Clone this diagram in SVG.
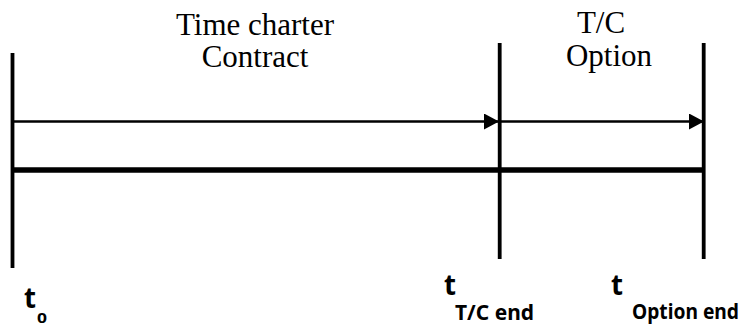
<svg xmlns="http://www.w3.org/2000/svg" width="749" height="327" viewBox="0 0 749 327">
<style>
.serif{font-family:"Liberation Serif","Times New Roman",serif;font-size:31px;fill:#000}
.lbl{font-family:"Noto Sans","Liberation Sans",sans-serif;font-weight:bold;fill:#000}
.v{stroke:#000;stroke-width:3.8;fill:none}
.arr{stroke:#000;stroke-width:2.6;fill:none}
</style>
<defs>
<marker id="ah" markerUnits="userSpaceOnUse" markerWidth="15" markerHeight="16" refX="15" refY="8" orient="auto">
<path d="M0,0 L15,8 L0,16 Z" fill="#000"/>
</marker>
</defs>
<rect width="749" height="327" fill="#fff"/>
<g id="connectors">
<line class="arr" x1="12" y1="121.5" x2="499" y2="121.5" marker-end="url(#ah)"/>
<line class="arr" x1="500" y1="121.5" x2="704" y2="121.5" marker-end="url(#ah)"/>
<line x1="11" y1="170" x2="705" y2="170" stroke="#000" stroke-width="5.5"/>
</g>
<g id="t0">
<line class="v" x1="12.5" y1="53" x2="12.5" y2="268"/>
<text class="lbl" x="24" y="308" font-size="29" textLength="12" lengthAdjust="spacingAndGlyphs">t</text>
<text class="lbl" x="37" y="323" font-size="15" textLength="10" lengthAdjust="spacingAndGlyphs">0</text>
</g>
<g id="tTCend">
<line class="v" x1="499.7" y1="43" x2="499.7" y2="259"/>
<text class="lbl" x="444" y="295" font-size="29" textLength="12" lengthAdjust="spacingAndGlyphs">t</text>
<text class="lbl" x="455" y="320" font-size="22" textLength="79" lengthAdjust="spacingAndGlyphs">T/C end</text>
</g>
<g id="tOptionend">
<line class="v" x1="703.7" y1="43" x2="703.7" y2="259"/>
<text class="lbl" x="611" y="295" font-size="29" textLength="12" lengthAdjust="spacingAndGlyphs">t</text>
<text class="lbl" x="632" y="319" font-size="21" textLength="107" lengthAdjust="spacingAndGlyphs">Option end</text>
</g>
<g id="contract">
<text class="serif" x="255" y="35" text-anchor="middle">Time charter</text>
<text class="serif" x="255" y="67" text-anchor="middle">Contract</text>
</g>
<g id="option">
<text class="serif" x="601" y="33" text-anchor="middle">T/C</text>
<text class="serif" x="609" y="66" text-anchor="middle">Option</text>
</g>
</svg>
